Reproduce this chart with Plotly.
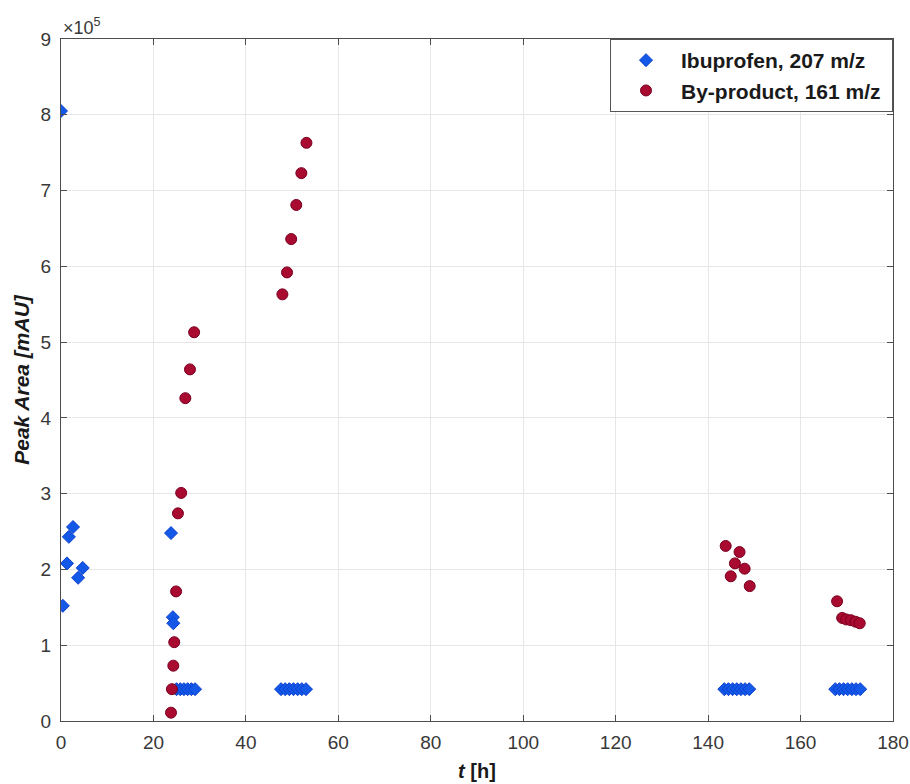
import plotly.graph_objects as go

# Ibuprofen, 207 m/z  (t in hours, peak area in mAU)
ibu_t = [0.0, 0.4, 1.3, 1.7, 2.6, 3.7, 4.7,
         23.8, 24.2, 24.3,
         25.0, 25.8, 26.6, 27.4, 28.2, 29.0,
         47.6, 48.5, 49.4, 50.3, 51.2, 52.1, 53.0,
         143.5, 144.4, 145.3, 146.2, 147.1, 148.0, 148.9,
         167.5, 168.4, 169.3, 170.2, 171.1, 172.0, 172.9]
ibu_y = [8.05e5, 1.52e5, 2.08e5, 2.43e5, 2.56e5, 1.89e5, 2.02e5,
         2.48e5, 1.37e5, 1.29e5,
         0.42e5, 0.42e5, 0.42e5, 0.42e5, 0.42e5, 0.42e5,
         0.42e5, 0.42e5, 0.42e5, 0.42e5, 0.42e5, 0.42e5, 0.42e5,
         0.42e5, 0.42e5, 0.42e5, 0.42e5, 0.42e5, 0.42e5, 0.42e5,
         0.42e5, 0.42e5, 0.42e5, 0.42e5, 0.42e5, 0.42e5, 0.42e5]

# By-product, 161 m/z
byp_t = [23.8, 24.0, 24.3, 24.5, 24.9, 25.3, 26.0, 26.9, 27.9, 28.8,
         47.9, 48.9, 49.8, 50.9, 52.0, 53.1,
         143.8, 144.9, 145.8, 146.8, 147.9, 149.0,
         167.9, 169.0, 169.9, 170.9, 171.9, 172.8]
byp_y = [0.11e5, 0.42e5, 0.73e5, 1.04e5, 1.71e5, 2.74e5, 3.01e5, 4.26e5, 4.64e5, 5.13e5,
         5.63e5, 5.92e5, 6.36e5, 6.81e5, 7.23e5, 7.63e5,
         2.31e5, 1.91e5, 2.08e5, 2.23e5, 2.01e5, 1.78e5,
         1.58e5, 1.36e5, 1.34e5, 1.33e5, 1.31e5, 1.29e5]

x_ticks = [0, 20, 40, 60, 80, 100, 120, 140, 160, 180]
y_ticks = [0, 1e5, 2e5, 3e5, 4e5, 5e5, 6e5, 7e5, 8e5, 9e5]
y_tick_text = ["0", "1", "2", "3", "4", "5", "6", "7", "8", "9"]

FONT = "Liberation Sans, Arial"

fig = go.Figure()
fig.add_trace(go.Scatter(
    x=ibu_t, y=ibu_y, mode="markers", name="<b>Ibuprofen, 207 m/z</b>&nbsp;",
    marker=dict(symbol="diamond", size=10, color="#1458e8",
                line=dict(color="#0a3fd0", width=1)),
))
fig.add_trace(go.Scatter(
    x=byp_t, y=byp_y, mode="markers", name="<b>By-product, 161 m/z</b>&nbsp;",
    marker=dict(symbol="circle", size=11, color="#a80a30",
                line=dict(color="#7a0020", width=1)),
))

axis_common = dict(
    showgrid=True, gridcolor="#e6e6e6", gridwidth=1, automargin=False,
    zeroline=False, showline=True, linecolor="#4d4d4d", linewidth=1,
    mirror="ticks", ticks="inside", ticklen=6, tickcolor="#4d4d4d",
    tickfont=dict(family=FONT, size=19, color="#383838"),
)

fig.update_layout(
    width=910, height=784,
    margin=dict(l=61, r=17, t=39, b=63),
    paper_bgcolor="white", plot_bgcolor="white",
    showlegend=True,
    legend=dict(
        x=1, xanchor="right", y=1, yanchor="top",
        bgcolor="white", bordercolor="#555555", borderwidth=1,
        font=dict(family=FONT, size=21, color="#1a1a1a"),
        itemwidth=60,
    ),
    xaxis=dict(range=[0, 180], tickvals=x_ticks, ticklabelstandoff=4,
               title=dict(text="<b><i>t</i> [h]</b>", standoff=12,
                          font=dict(family=FONT, size=20, color="#1a1a1a")),
               **axis_common),
    yaxis=dict(range=[0, 9e5], tickvals=y_ticks, ticktext=y_tick_text,
               ticklabelstandoff=5,
               title=dict(text="<b><i>Peak Area [mAU]</i></b>", standoff=5,
                          font=dict(family=FONT, size=21, color="#1a1a1a")),
               **axis_common),
)

fig.add_annotation(
    text="×10<sup>5</sup>", xref="paper", yref="paper", x=0, y=1,
    xanchor="left", yanchor="bottom", showarrow=False, yshift=-1,
    font=dict(family=FONT, size=18, color="#383838"),
)

fig.write_html("out.html")
